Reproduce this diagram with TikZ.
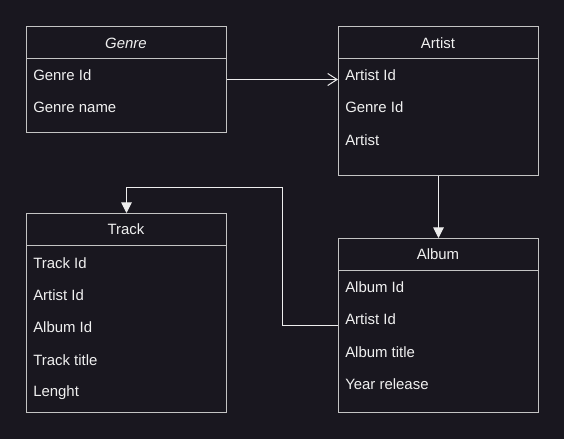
\documentclass[tikz,border=0pt]{standalone}
\usepackage{fontspec}
\setmainfont{Liberation Sans}
\usetikzlibrary{arrows.meta}
\definecolor{bg}{HTML}{19171F}
\definecolor{boxline}{HTML}{C4C4C4}
\definecolor{conn}{HTML}{EDEDED}
\definecolor{txt}{HTML}{F0F0F0}
\begin{document}
\begin{tikzpicture}[x=0.75pt,y=-0.75pt,
  tbl/.style={draw=boxline,line width=0.75pt,anchor=north west,inner sep=0pt,minimum width=150pt},
  sep/.style={draw=boxline,line width=0.75pt},
  fld/.style={anchor=west,inner sep=0pt,text=txt,font=\fontsize{11.2pt}{13pt}\selectfont},
  ttl/.style={inner sep=0pt,text=txt,font=\fontsize{11.2pt}{13pt}\selectfont},
  conn/.style={draw=conn,line width=0.75pt}]
\fill[bg] (0,0) rectangle (564,439);
\useasboundingbox (0,0) rectangle (564,439);
% Genre
\node[tbl,minimum height=79.5pt] (genre) at (26,26) {};
\draw[sep] (26,58) -- (226,58);
\node[ttl] (genreT) at (126,43) {\itshape Genre};
\node[fld] (g1) at (33,75) {Genre Id};
\node[fld] (g2) at (33,107.5) {Genre name};
% Artist
\node[tbl,minimum height=111.75pt] (artist) at (338,26) {};
\draw[sep] (338,58) -- (538,58);
\node[ttl] (artistT) at (438,43) {Artist};
\node[fld] (a1) at (345,75) {Artist Id};
\node[fld] (a2) at (345,107.5) {Genre Id};
\node[fld] (a3) at (345,140) {Artist};
% Track
\node[tbl,minimum height=149.25pt] (track) at (26,213) {};
\draw[sep] (26,245) -- (226,245);
\node[ttl] (trackT) at (126,229.5) {Track};
\node[fld] (t1) at (33,263) {Track Id};
\node[fld] (t2) at (33,295) {Artist Id};
\node[fld] (t3) at (33,327.5) {Album Id};
\node[fld] (t4) at (33,360) {Track title};
\node[fld] (t5) at (33,392.5) {Lenght};
% Album
\node[tbl,minimum height=130.5pt] (album) at (338,238) {};
\draw[sep] (338,270.5) -- (538,270.5);
\node[ttl] (albumT) at (438,254.5) {Album};
\node[fld] (b1) at (345,287.5) {Album Id};
\node[fld] (b2) at (345,319.5) {Artist Id};
\node[fld] (b3) at (345,352) {Album title};
\node[fld] (b4) at (345,384.5) {Year release};
% connectors
\coordinate (bend) at (282,187);
\draw[conn,-{Straight Barb[length=7pt,width=9pt,line width=0.75pt]}] (genre.east) -- (artist.west |- genre.east);
\draw[conn,-{Triangle[length=8pt,width=8pt]}] (artist.south) -- (album.north);
\draw[conn,-{Triangle[length=8pt,width=8pt]}] (album.west) -| (bend) -| (track.north);
\end{tikzpicture}
\end{document}
